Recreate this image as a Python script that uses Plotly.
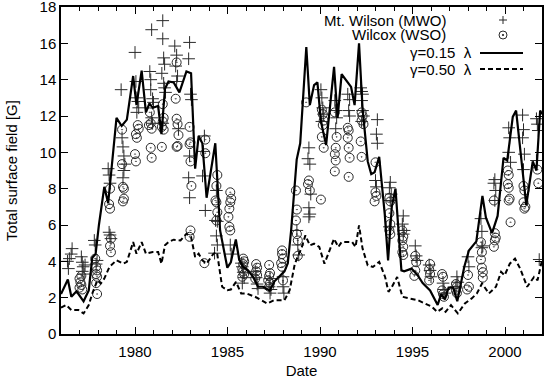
import plotly.graph_objects as go

# Mt. Wilson (MWO) - pontos "+"
mwo_ano = [1976.4, 1976.45, 1976.55, 1976.6, 1976.35,
           1977.1, 1977.15, 1977.2, 1977.15, 1977.25, 1977.3,
           1977.8, 1977.85, 1977.95, 1977.9,
           1978.55, 1978.6, 1978.65, 1978.6, 1978.65, 1978.7,
           1979.25, 1979.3, 1979.35, 1979.4, 1979.45, 1979.4, 1979.35,
           1980.0, 1980.05, 1980.1, 1980.15, 1980.2, 1980.1,
           1980.8, 1980.85, 1980.9, 1980.85, 1980.95, 1981.0, 1980.9, 1980.95,
           1981.5, 1981.5, 1981.55, 1981.6, 1981.45, 1981.55, 1981.6, 1981.65, 1981.5,
           1982.15, 1982.25, 1982.2, 1982.3, 1982.25, 1982.35,
           1982.95, 1982.9, 1983.0, 1983.05, 1982.95, 1982.9, 1982.95,
           1983.75, 1983.7, 1983.65, 1983.8,
           1984.35, 1984.4, 1984.45, 1984.3, 1984.4, 1984.45,
           1985.15, 1985.2,
           1985.75, 1985.8, 1985.85, 1985.9, 1985.8,
           1986.5, 1986.55, 1986.6, 1986.65,
           1987.3, 1987.25, 1987.35, 1987.3,
           1988.0, 1988.05, 1988.0,
           1988.75, 1988.8, 1988.85,
           1989.4, 1989.35, 1989.45, 1989.5, 1989.4, 1989.45, 1989.4,
           1990.05, 1990.1, 1990.15, 1990.2, 1990.1,
           1990.8, 1990.85, 1990.9, 1990.85,
           1991.5, 1991.6, 1991.55, 1991.6,
           1992.2, 1992.25, 1992.3, 1992.25, 1992.3, 1992.35, 1992.25,
           1993.1, 1993.05, 1993.1, 1993.0, 1993.05,
           1993.8, 1993.75, 1993.85, 1993.8, 1993.75,
           1994.5, 1994.45, 1994.55, 1994.5,
           1995.15, 1995.2, 1995.25,
           1995.95, 1996.0, 1995.9,
           1996.65, 1996.7, 1996.75,
           1997.4, 1997.45, 1997.35,
           1998.0, 1998.05,
           1998.7, 1998.75, 1998.8, 1998.75,
           1999.45, 1999.4, 1999.5, 1999.45,
           2000.2, 2000.25, 2000.2, 2000.3,
           2000.95, 2001.0, 2000.95, 2001.05, 2001.0,
           2001.7, 2001.75, 2001.8, 2001.7, 2001.85]
mwo_campo = [3.6, 4.15, 4.4, 4.7, 4.0,
             4.25, 3.95, 3.7, 3.45, 3.3, 3.8,
             5.15, 4.9, 4.05, 3.85,
             9.1, 8.75, 8.3, 5.6, 5.45, 5.25,
             13.45, 10.8, 10.3, 9.8, 9.35, 9.0, 8.6,
             15.5, 13.9, 13.0, 12.8, 12.45, 12.2,
             14.45, 14.0, 16.75, 13.45, 12.95, 12.75, 11.9, 11.6,
             17.25, 16.25, 15.2, 14.85, 14.35, 13.8, 13.55, 13.3, 11.6,
             15.85, 15.35, 14.75, 14.2, 13.9, 11.3,
             16.05, 15.15, 13.2, 12.9, 9.8, 8.6, 7.5,
             10.9, 10.05, 8.7, 6.8,
             6.25, 5.4, 4.9, 4.45, 7.9, 6.2,
             4.9, 4.4,
             3.9, 3.7, 3.4, 3.1, 2.8,
             3.45, 3.1, 2.75, 2.5,
             3.05, 2.6, 2.45, 2.25,
             3.15, 2.25, 2.6,
             5.7, 4.9, 4.35,
             10.25, 9.65, 9.35, 7.7, 6.95, 6.6, 6.45,
             13.45, 13.0, 12.45, 12.1, 11.7,
             12.85, 12.3, 11.9, 11.3,
             13.2, 12.9, 12.3, 12.0,
             13.55, 13.35, 13.2, 12.85, 12.3, 12.0, 11.7,
             11.8, 11.0, 10.5, 8.45, 8.1,
             8.35, 8.05, 7.7, 7.35, 5.9,
             6.5, 6.05, 5.7, 5.5,
             4.85, 4.3, 4.05,
             3.5, 3.15, 3.8,
             2.8, 2.45, 2.25,
             3.15, 2.85, 2.6,
             4.25, 3.7,
             6.35, 5.65, 4.85, 4.75,
             8.5, 8.3, 7.9, 7.35,
             11.35, 10.8, 10.0, 9.45,
             12.05, 11.25, 10.8, 9.9, 9.05,
             11.85, 11.55, 11.2, 9.55, 4.1]

# Wilcox (WSO) - circulos
wso_ano = [1977.0, 1977.05, 1977.1, 1977.0, 1977.15, 1977.1,
           1977.85, 1977.9, 1977.95, 1977.9, 1977.95, 1977.9, 1977.95,
           1978.65, 1978.6, 1978.65, 1978.7, 1978.65, 1978.7,
           1979.3, 1979.3, 1979.35, 1979.4, 1979.4, 1979.35,
           1980.05, 1980.1, 1980.15, 1980.2, 1980.0, 1980.05,
           1980.8, 1980.85, 1980.75, 1980.9, 1980.85, 1980.9,
           1981.5, 1981.55, 1981.5, 1981.45, 1981.55, 1981.45,
           1982.25, 1982.2, 1982.25, 1982.3, 1982.35, 1982.3, 1982.25,
           1982.95, 1983.0, 1982.95, 1983.0, 1983.05, 1983.0, 1982.95,
           1983.8, 1983.8, 1983.75,
           1984.45, 1984.4, 1984.35, 1984.4, 1984.45, 1984.4,
           1985.15, 1985.2, 1985.15, 1985.1, 1985.05, 1985.1, 1985.15,
           1985.85, 1985.9, 1985.85, 1985.8, 1985.85, 1985.9, 1985.8,
           1986.55, 1986.6, 1986.55, 1986.6, 1986.5,
           1987.25, 1987.3, 1987.25, 1987.2, 1987.3, 1987.25,
           1987.95, 1987.95, 1988.0, 1987.9, 1987.95, 1988.0,
           1988.7, 1988.75, 1988.7, 1988.75, 1988.8, 1988.8,
           1989.25, 1989.4, 1989.35, 1989.45,
           1990.1, 1990.15, 1990.2, 1990.15, 1990.1, 1990.2, 1990.05,
           1990.8, 1990.9, 1990.85, 1990.8, 1990.85, 1990.8,
           1991.5, 1991.55, 1991.5, 1991.55, 1991.6, 1991.55,
           1992.25, 1992.3, 1992.25, 1992.35, 1992.2, 1992.25,
           1993.0, 1993.0, 1993.05, 1992.95,
           1993.75, 1993.8, 1993.75, 1993.8, 1993.75, 1993.8,
           1994.45, 1994.5, 1994.45, 1994.5, 1994.45, 1994.5,
           1995.15, 1995.2, 1995.15, 1995.1,
           1995.95, 1995.9, 1995.95, 1995.9,
           1996.6, 1996.65, 1996.6, 1996.65, 1996.7,
           1997.35, 1997.4, 1997.35, 1997.4,
           1998.0, 1998.05, 1997.95,
           1998.7, 1998.75, 1998.7, 1998.75, 1998.8, 1998.8,
           1999.4, 1999.45, 1999.5, 1999.45, 1999.4,
           2000.15, 2000.2, 2000.15, 2000.2, 2000.25, 2000.2, 2000.3,
           2001.0, 2001.05, 2001.0, 2001.1, 2001.05,
           2001.75, 2001.8]
wso_campo = [3.05, 2.85, 2.7, 2.55, 2.45, 3.2,
             4.15, 3.7, 3.5, 3.3, 3.15, 2.8, 2.2,
             8.0, 7.15, 6.9, 5.25, 4.85, 4.5,
             11.25, 9.35, 8.1, 8.0, 7.45, 7.3,
             11.0, 10.8, 11.5, 11.3, 9.9, 9.5,
             12.2, 11.6, 11.5, 11.3, 10.25, 9.7,
             12.65, 11.9, 11.7, 11.4, 11.25, 10.3,
             14.95, 12.95, 11.85, 11.55, 10.95, 10.35, 10.3,
             11.4, 10.55, 10.45, 9.5, 8.15, 5.7, 5.35,
             10.7, 9.95, 3.9,
             8.75, 8.15, 7.35, 7.25, 6.7, 6.25,
             7.8, 7.45, 7.25, 6.9, 6.45, 5.9, 5.7,
             4.15, 4.0, 3.85, 3.6, 3.45, 3.3, 3.15,
             3.85, 3.65, 3.45, 3.25, 3.05,
             3.8, 3.35, 3.2, 2.95, 2.8, 2.6,
             4.6, 4.4, 4.15, 3.9, 3.7, 2.95,
             7.9, 6.85, 6.25, 5.5, 5.15, 4.3,
             12.75, 8.45, 8.25, 7.9,
             12.35, 12.1, 11.75, 11.5, 10.85, 10.25, 7.4,
             12.2, 10.85, 10.25, 9.9, 9.55, 8.95,
             11.35, 11.2, 10.8, 10.25, 9.7, 8.65,
             12.2, 12.0, 11.75, 11.55, 10.6, 9.75,
             9.45, 7.8, 7.6, 7.3,
             7.5, 7.3, 6.65, 6.05, 5.7, 5.5,
             5.7, 5.35, 5.15, 4.8, 4.5, 4.35,
             4.3, 3.95, 3.5, 3.2,
             3.85, 3.55, 3.3, 2.95,
             3.3, 3.15, 2.4, 2.2, 2.05,
             2.75, 2.6, 2.4, 2.25,
             3.25, 2.6, 2.45,
             5.05, 4.5, 4.1, 3.65, 3.4, 3.1,
             7.35, 5.55, 5.3, 5.15, 4.8,
             9.0, 8.75, 8.25, 8.05, 7.45, 7.35, 6.15,
             8.15, 7.9, 7.25, 7.0, 6.9,
             9.05, 8.3]

# modelo gamma = 0.15 lambda (linha cheia)
g15_ano = [1976.0, 1976.37, 1976.56, 1976.84, 1977.22, 1977.5, 1977.69, 1977.87,
           1978.05, 1978.34, 1978.55, 1979.0, 1979.28, 1979.56, 1979.9, 1980.08,
           1980.36, 1980.59, 1980.78, 1980.96, 1981.25, 1981.43, 1981.62, 1981.81,
           1982.09, 1982.4, 1982.78, 1983.03, 1983.25, 1983.44, 1983.64, 1983.87,
           1984.34, 1984.6, 1984.99, 1985.18, 1985.45, 1985.63, 1985.84, 1986.11,
           1986.38, 1986.65, 1986.92, 1987.28, 1987.54, 1987.9, 1988.08, 1988.26,
           1988.44, 1988.74, 1988.93, 1989.26, 1989.45, 1989.68, 1989.86, 1990.05,
           1990.33, 1990.76, 1990.95, 1991.17, 1991.68, 1991.87, 1992.11, 1992.3,
           1992.58, 1992.77, 1992.95, 1993.2, 1993.5, 1993.68, 1993.88, 1994.08,
           1994.4, 1994.55, 1994.95, 1995.3, 1995.55, 1995.95, 1996.36, 1996.55,
           1996.75, 1996.95, 1997.2, 1997.42, 1997.8, 1998.05, 1998.45, 1998.78,
           1998.97, 1999.3, 1999.6, 1999.92, 2000.12, 2000.42, 2000.6, 2001.15,
           2001.5, 2001.7, 2001.9, 2002.0]
g15_campo = [2.2, 3.0, 2.05, 2.35, 1.8, 2.4, 4.2, 4.4,
             6.0, 8.1, 7.2, 11.9, 11.45, 11.8, 14.2, 12.6,
             14.5, 12.2, 12.7, 12.45, 12.55, 11.0, 13.5, 13.9,
             13.85, 13.3, 14.45, 14.35, 9.1, 10.9, 10.5, 7.5,
             10.5, 5.7, 3.65, 3.95, 5.2, 4.1, 3.7, 3.5,
             3.15, 2.6, 2.6, 2.4, 2.9, 3.25, 3.45, 3.9,
             5.7, 9.6, 10.5, 15.8, 12.6, 13.7, 13.85, 11.7,
             10.4, 14.7, 11.9, 14.3, 13.6, 12.6, 16.0, 12.4,
             9.5, 8.8, 8.9, 9.75, 6.6, 4.05, 7.0, 8.0,
             3.5, 3.45, 3.6, 3.2, 2.8, 2.4, 1.6, 2.2,
             1.9, 2.55, 2.55, 1.8, 3.7, 4.6, 5.1, 7.6,
             6.4, 5.55, 6.5, 9.7, 9.55, 11.95, 12.3, 7.1,
             9.5, 9.0, 12.3, 12.1]

# modelo gamma = 0.50 lambda (tracejada)
g50_ano = [1976.0, 1976.28, 1976.56, 1976.94, 1977.22, 1977.5, 1977.69, 1977.97,
           1978.15, 1978.34, 1978.62, 1979.0, 1979.37, 1979.56, 1979.9, 1980.08,
           1980.36, 1980.59, 1980.96, 1981.25, 1981.43, 1981.62, 1981.81, 1982.09,
           1982.46, 1982.78, 1983.03, 1983.25, 1983.44, 1983.64, 1983.87, 1984.24,
           1984.43, 1984.71, 1984.99, 1985.18, 1985.46, 1985.74, 1986.02, 1986.49,
           1987.15, 1987.52, 1988.08, 1988.36, 1988.64, 1989.02, 1989.21, 1989.45,
           1989.68, 1989.96, 1990.24, 1990.76, 1990.99, 1991.17, 1991.74, 1991.92,
           1992.11, 1992.3, 1992.58, 1992.86, 1993.2, 1993.52, 1993.7, 1993.89,
           1994.17, 1994.45, 1994.83, 1995.3, 1995.67, 1996.05, 1996.33, 1996.61,
           1996.79, 1997.08, 1997.45, 1997.83, 1998.2, 1998.48, 1998.76, 1999.13,
           1999.51, 1999.79, 1999.98, 2000.26, 2000.54, 2000.82, 2001.2, 2001.57,
           2001.76, 2002.0]
g50_campo = [1.45, 1.6, 1.32, 1.32, 1.13, 1.59, 2.23, 2.96,
             2.78, 3.05, 3.69, 4.06, 3.87, 3.97, 5.06, 4.42,
             5.06, 4.42, 4.51, 4.51, 3.87, 4.88, 5.06, 5.19,
             5.15, 5.52, 5.34, 4.24, 4.42, 4.06, 3.87, 4.42,
             4.51, 2.6, 2.41, 2.45, 2.87, 2.23, 2.23, 2.05,
             1.68, 1.86, 1.86, 2.41, 3.87, 4.79, 5.43, 4.88,
             4.97, 4.79, 3.87, 5.24, 4.79, 5.06, 5.06, 4.79,
             5.98, 4.7, 3.78, 3.69, 3.97, 3.14, 2.32, 2.6,
             3.14, 2.05, 1.96, 1.86, 1.68, 1.5, 1.22, 1.41,
             1.22, 1.59, 1.13, 1.68, 1.96, 2.23, 2.78, 2.23,
             2.6, 3.42, 3.23, 3.87, 4.15, 3.6, 2.6, 3.14,
             2.96, 4.06]

cor_ponto = "#2a2a2a"

fig = go.Figure()
fig.add_trace(go.Scatter(x=mwo_ano, y=mwo_campo, mode="markers", name="Mt. Wilson (MWO)",
                         marker=dict(symbol="cross-thin-open", size=9, color=cor_ponto,
                                     line=dict(color=cor_ponto, width=1))))
fig.add_trace(go.Scatter(x=wso_ano, y=wso_campo, mode="markers", name="Wilcox (WSO)",
                         marker=dict(symbol="circle-open-dot", size=9, color=cor_ponto,
                                     line=dict(color=cor_ponto, width=1))))
fig.add_trace(go.Scatter(x=g15_ano, y=g15_campo, mode="lines", name="γ=0.15 λ",
                         line=dict(color="black", width=2.2)))
fig.add_trace(go.Scatter(x=g50_ano, y=g50_campo, mode="lines", name="γ=0.50 λ",
                         line=dict(color="black", width=2, dash="5px,3px")))

# area do grafico em pixels (para a legenda desenhada a mao)
L, R, T, B = 61, 542, 7, 334


def px(x):
    return (x - L) / (R - L)


def py(y):
    return (B - y) / (B - T)


fonte = dict(family="Liberation Sans, Arial, sans-serif", size=15, color="black")
linhas_leg = [20, 35, 53, 69]
textos_leg = ["Mt. Wilson (MWO)", "Wilcox (WSO)", "γ=0.15\u00a0\u00a0λ", "γ=0.50\u00a0\u00a0λ"]
fim_texto = [447, 447, 473, 473]
for yy, txt, xf in zip(linhas_leg, textos_leg, fim_texto):
    fig.add_annotation(x=px(xf), y=py(yy), xref="paper", yref="paper", text=txt,
                       showarrow=False, xanchor="right", yanchor="middle", font=fonte,
                       borderpad=0)

cx = 503
papel = dict(xref="paper", yref="paper")
shapes = [
    dict(papel, type="line", x0=px(cx - 4), x1=px(cx + 4), y0=py(20), y1=py(20),
         line=dict(color=cor_ponto, width=1)),
    dict(papel, type="line", x0=px(cx), x1=px(cx), y0=py(16), y1=py(24),
         line=dict(color=cor_ponto, width=1)),
    dict(papel, type="circle", x0=px(cx - 4), x1=px(cx + 4), y0=py(31), y1=py(39),
         line=dict(color=cor_ponto, width=1)),
    dict(papel, type="circle", x0=px(cx - 0.7), x1=px(cx + 0.7), y0=py(34.3), y1=py(35.7),
         line=dict(color=cor_ponto, width=1), fillcolor=cor_ponto),
    dict(papel, type="line", x0=px(480), x1=px(523), y0=py(53), y1=py(53),
         line=dict(color="black", width=2.2)),
    dict(papel, type="line", x0=px(480), x1=px(523), y0=py(69), y1=py(69),
         line=dict(color="black", width=2, dash="5px,3px")),
]

eixo = dict(showline=True, linecolor="black", linewidth=1.5, mirror="allticks",
            ticks="inside", tickcolor="black", showgrid=False, zeroline=False,
            automargin=False, ticklabeloverflow="allow",
            tickfont=fonte, title_font=fonte)

fig.update_layout(
    width=545, height=379,
    margin=dict(l=L, r=545 - R, t=T, b=379 - B),
    plot_bgcolor="white", paper_bgcolor="white",
    showlegend=False,
    font=fonte,
    shapes=shapes,
    xaxis=dict(eixo, range=[1976, 2002], dtick=5, tick0=1980, ticklen=7,
               ticklabelstandoff=3,
               minor=dict(dtick=1, ticks="inside", ticklen=4, tickcolor="black"),
               title=dict(text="Date", standoff=10)),
    yaxis=dict(eixo, range=[0, 18], dtick=2, ticklen=7,
               title=dict(text="Total surface field [G]", standoff=18)),
)

# sem margem do body, para a figura ocupar a janela inteira
fig.write_html("out.html", config={"displayModeBar": False},
               post_script="document.body.style.margin='0';")
